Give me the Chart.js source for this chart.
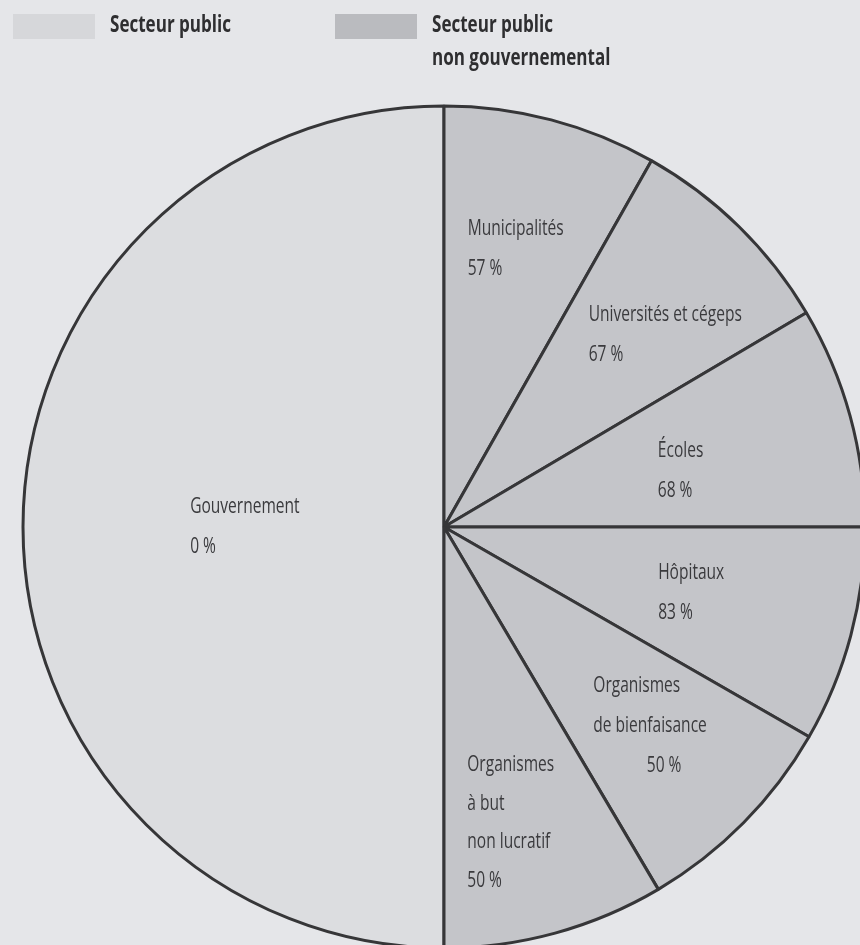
<!DOCTYPE html>
<html lang="fr">
<head>
    <meta charset="UTF-8">
    <title>Secteur public</title>
    <script src="https://cdn.jsdelivr.net/npm/chart.js"></script>
    <style>
        body { margin: 0; background: #e5e6e9; overflow: hidden; width: 860px; height: 945px; position: relative; }
        #wrap { position: absolute; left: 0; top: 0; width: 888px; height: 1054px; }
        .legend { position: absolute; top: 0; left: 0; font-family: 'Open Sans', sans-serif; font-weight: bold; font-size: 24px; color: #2e2e30; line-height: 33px; }
        .legend .item { position: absolute; display: flex; align-items: flex-start; white-space: nowrap; }
        .legend .sw { width: 82px; height: 25px; margin-top: 8px; margin-right: 15px; }
        .legend .txt { transform: scaleX(0.71); transform-origin: left top; }
    </style>
</head>
<body>
    <div id="wrap"><canvas id="pie"></canvas></div>
    <div class="legend" id="legend"></div>

    <script>
        // data
        const categories = [
            ['Gouvernement'],
            ['Municipalités'],
            ['Universités et cégeps'],
            ['Écoles'],
            ['Hôpitaux'],
            ['Organismes', 'de bienfaisance'],
            ['Organismes', 'à but', 'non lucratif']
        ];
        const shares = [50, 8.2, 8.3, 8.5, 8.3, 8.2, 8.5];
        const rates = [0, 57, 67, 68, 83, 50, 50];
        const sectorNames = [['Secteur public'], ['Secteur public', 'non gouvernemental']];
        const sectorOf = [0, 1, 1, 1, 1, 1, 1];

        // look
        const sectorColors = ['#dcdde0', '#c4c5c9'];
        const swatchColors = ['#d6d7da', '#babbbf'];
        // label placement: t = position across the slice, f = fraction of the radius
        const labelT = [0.5, 0.165, 0.25, 0.52, 0.57, 0.477, 0.853];
        const labelF = [0.603, 0.663, 0.571, 0.525, 0.532, 0.68, 0.705];
        const labelAlign = ['left', 'left', 'left', 'left', 'left', 'center', 'left'];
        const squeeze = 0.74;

        // legend
        const legendX = [13, 335];
        const legend = document.getElementById('legend');
        sectorNames.forEach((lines, i) => {
            const item = document.createElement('div');
            item.className = 'item';
            item.style.left = legendX[i] + 'px';
            item.style.top = '6px';
            item.innerHTML = `<div class="sw" style="background:${swatchColors[i]}"></div><div class="txt">${lines.join('<br>')}</div>`;
            legend.appendChild(item);
        });

        function narrowText(ctx, text, x, y) {
            ctx.save();
            ctx.translate(x, y);
            ctx.scale(squeeze, 1);
            ctx.fillText(text, 0, 0);
            ctx.restore();
        }

        const sliceLabels = {
            id: 'sliceLabels',
            afterDatasetsDraw(chart) {
                const ctx = chart.ctx;
                const arcs = chart.getDatasetMeta(0).data;
                ctx.save();
                ctx.font = '21px "Open Sans", sans-serif';
                ctx.fillStyle = '#3a3a3d';
                ctx.textBaseline = 'middle';
                ctx.textAlign = 'left';
                arcs.forEach((arc, i) => {
                    const a = arc.startAngle + (arc.endAngle - arc.startAngle) * labelT[i];
                    const r = arc.outerRadius * labelF[i];
                    const x = arc.x + Math.cos(a) * r;
                    const y = arc.y + Math.sin(a) * r;
                    const lines = categories[i].concat([rates[i] + ' %']);
                    const gap = lines.length > 3 ? 38.5 : 40;
                    const w = Math.max(...lines.map(l => ctx.measureText(l).width)) * squeeze;
                    lines.forEach((l, k) => {
                        const ly = y + (k - (lines.length - 1) / 2) * gap;
                        let lx = x;
                        if (labelAlign[i] === 'center') {
                            lx = k === lines.length - 1 ? x - ctx.measureText(l).width * squeeze / 2 + 14 : x - w / 2;
                        }
                        narrowText(ctx, l, lx, ly);
                    });
                });
                ctx.restore();
            }
        };

        new Chart(document.getElementById('pie'), {
            type: 'pie',
            data: {
                labels: categories,
                datasets: [{
                    data: shares,
                    backgroundColor: sectorOf.map(s => sectorColors[s]),
                    borderColor: '#363638',
                    borderWidth: 3,
                    hoverOffset: 0
                }]
            },
            options: {
                responsive: true,
                maintainAspectRatio: false,
                animation: false,
                rotation: 180,
                radius: 421,
                layout: { padding: 0 },
                plugins: {
                    legend: { display: false },
                    tooltip: { enabled: false }
                }
            },
            plugins: [sliceLabels]
        });
    </script>
</body>
</html>
